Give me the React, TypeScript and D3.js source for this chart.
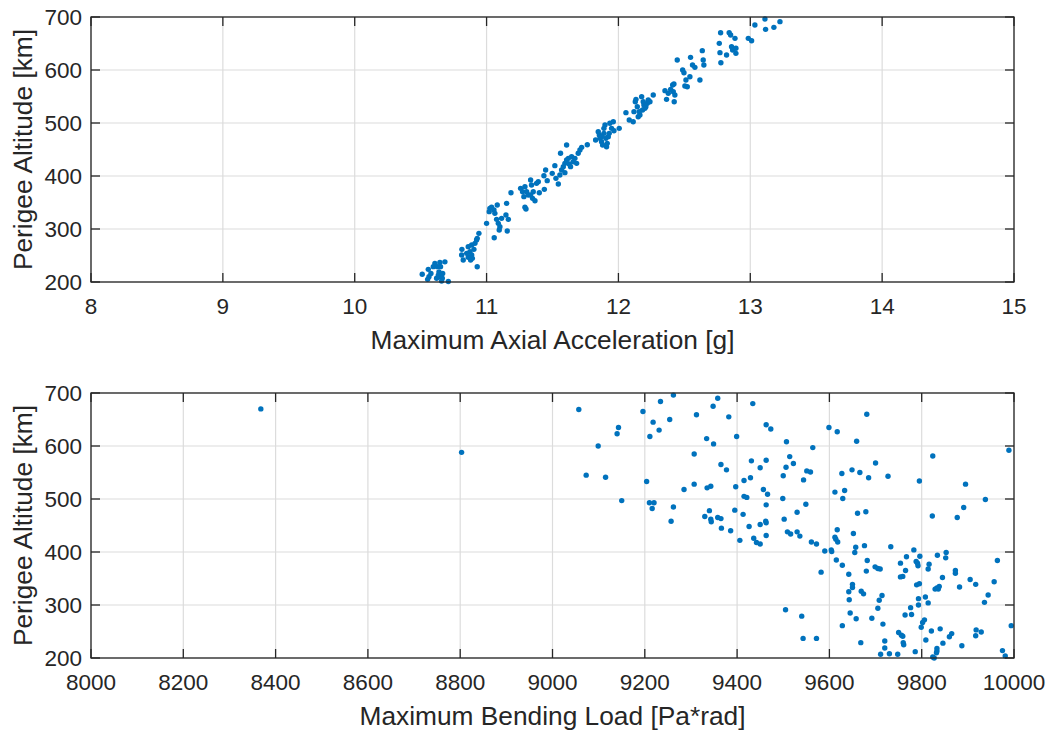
import React from "react";
import * as d3 from "d3";

// ---------- Data ----------
const accelG = [
  10.512, 10.558, 10.563, 10.553, 10.596, 10.608, 10.626, 10.646, 10.651, 10.684, 10.639, 10.634, 10.651, 10.664, 10.621, 10.659, 10.71, 10.578, 10.667,
  10.813, 10.811, 10.823, 10.861, 10.874, 10.887, 10.892, 10.861, 10.887, 10.904, 10.912, 10.924, 10.942, 10.929, 10.929, 10.849, 10.879,
  11.0, 11.025, 11.02, 11.038, 11.056, 11.081, 11.063, 11.076, 11.089, 11.101, 11.114, 11.147, 11.165, 11.157, 11.152, 11.058, 11.096,
  11.185, 11.258, 11.273, 11.291, 11.304, 11.283, 11.316, 11.334, 11.341, 11.354, 11.349, 11.367, 11.379, 11.392, 11.4, 11.438, 11.291, 11.299, 11.435, 11.448, 11.46, 11.334,
  11.498, 11.518, 11.526, 11.544, 11.556, 11.569, 11.561, 11.582, 11.594, 11.607, 11.607, 11.62, 11.627, 11.637, 11.645, 11.657, 11.67, 11.683, 11.695, 11.708, 11.721, 11.764, 11.594,
  11.827, 11.847, 11.855, 11.86, 11.872, 11.88, 11.89, 11.898, 11.905, 11.91, 11.915, 11.923, 11.93, 11.935, 11.948, 11.961, 11.966, 12.006, 11.89, 11.872,
  12.057, 12.082, 12.112, 12.118, 12.128, 12.133, 12.143, 12.15, 12.163, 12.176, 12.183, 12.193, 12.201, 12.208, 12.219, 12.226, 12.239, 12.264, 12.158, 12.188,
  12.353, 12.365, 12.378, 12.396, 12.411, 12.421, 12.428, 12.423, 12.416, 12.446, 12.487, 12.497, 12.512, 12.504, 12.522, 12.542, 12.547, 12.562, 12.58, 12.618, 12.636, 12.643, 12.648,
  12.765, 12.77, 12.777, 12.775, 12.84, 12.851, 12.858, 12.866, 12.82, 12.884, 12.891, 12.891,
  12.985, 13.01, 13.035, 13.111, 13.116, 13.179, 13.225,
];
const accelAltitude = [
  214.5, 223.9, 210, 205, 229, 235, 229, 237, 229, 238, 219, 213, 210, 207, 207, 202, 201, 216, 216,
  261.6, 250.9, 241.5, 246.5, 257.2, 250.9, 244.6, 266.7, 269.8, 261.6, 272.9, 279.2, 291.8, 282.4, 228.9, 254.1, 241.5,
  310.7, 339, 332.7, 340.9, 335.8, 345.3, 329.5, 318.2, 310.7, 304.4, 320.1, 326.4, 318.2, 296.2, 348.4, 283.6, 298.1,
  368.5, 376.7, 370.4, 379.9, 370.4, 361, 364.1, 392.4, 383, 370.4, 357.8, 353.4, 386.1, 389.3, 368.5, 374.8, 340.9, 337.7, 400.6, 411.3, 391.2, 364.1,
  405, 419.5, 395.6, 384.9, 401.9, 411.3, 442.8, 417.6, 423.9, 458.5, 430.2, 433.3, 422.6, 417.6, 436.5, 427, 433.3, 423.9, 442.8, 449.1, 454.1, 459.1, 406.3,
  467.9, 483.6, 477.4, 471.1, 464.8, 458.5, 480.5, 496.2, 471.1, 455.3, 461.6, 474.2, 480.5, 499.4, 489.9, 502.5, 485.5, 489.9, 489.9, 474.2,
  519.5, 505.7, 502.5, 521.4, 540.2, 544.6, 530.8, 511.9, 515.1, 549.7, 524.5, 533.9, 527.7, 530.8, 537.1, 543.4, 540.2, 552.8, 521.4, 540.2,
  561, 544.6, 556, 563.5, 571.7, 573.6, 552.8, 540.2, 559.1, 618.9, 600, 594.9, 581.1, 569.8, 568.5, 587.4, 623.9, 609.4, 605, 581.1, 636.5, 618.9, 609.4,
  650.3, 632.7, 613.8, 670.4, 670.4, 666, 644, 637.7, 628.3, 659.7, 640.9, 631.4,
  659.7, 655.3, 684.9, 696.2, 676.7, 680.5, 691.2,
];

const bendingLoad = [
  8368, 8803,
  9057, 9099, 9073, 9115, 9140, 9143, 9150, 9196, 9211, 9218, 9234, 9231, 9254, 9262, 9204, 9210, 9220, 9216, 9262, 9257,
  9285, 9307, 9307, 9312, 9334, 9349, 9348, 9358, 9382, 9399, 9434, 9463, 9473, 9365, 9377, 9335, 9343, 9397, 9415, 9429,
  9431, 9450, 9463, 9415, 9421, 9457, 9466, 9463, 9340, 9330, 9343, 9344, 9358, 9365, 9366, 9386, 9395, 9413, 9406, 9426,
  9436, 9442, 9450, 9450, 9462, 9463, 9463,
  9507, 9564, 9514, 9522, 9506, 9500, 9551, 9559, 9544, 9499, 9549, 9530, 9502, 9509, 9516, 9530, 9536, 9561, 9572, 9582,
  9590, 9604, 9605, 9599, 9617, 9659, 9681, 9627, 9649, 9666, 9685, 9700, 9727, 9612, 9633, 9629, 9661, 9679, 9617, 9612,
  9614, 9618, 9652, 9657, 9655, 9676, 9615, 9628, 9642, 9682, 9680, 9699, 9705, 9710, 9733, 9650, 9650, 9642, 9643, 9669,
  9674, 9714, 9708, 9705, 9645, 9658, 9628, 9692, 9716, 9668, 9720, 9720, 9711, 9730, 9748, 9505, 9540, 9543, 9572,
  9754, 9767, 9783, 9796, 9765, 9759, 9754, 9788, 9792, 9791, 9816, 9814, 9834, 9853, 9852, 9789, 9795, 9829, 9833, 9838,
  9836, 9845, 9873, 9873, 9882, 9905, 9917, 9957, 9964, 9944, 9936, 9793, 9808, 9814, 9793, 9776, 9764, 9778, 9799, 9802,
  9806, 9821, 9840, 9809, 9750, 9756, 9759, 9760, 9761, 9786, 9833, 9833, 9832, 9824, 9827, 9846, 9860, 9865, 9887, 9917,
  9918, 9929, 9975, 9981, 9994, 9823, 9877, 9891, 9895, 9938, 9989, 9795, 9824,
];
const bendingAltitude = [
  670, 588,
  669, 600, 545, 541, 623, 635, 497, 665, 618, 645, 684, 630, 650, 696, 533, 493, 493, 482, 485, 458,
  518, 528, 585, 659, 614, 604, 675, 690, 655, 618, 680, 640, 632, 565, 555, 521, 524, 523, 535, 540,
  572, 559, 573, 505, 503, 518, 509, 489, 478, 467, 462, 457, 465, 463, 445, 440, 479, 471, 422, 448,
  426, 418, 415, 452, 458, 455, 431,
  608, 597, 580, 567, 560, 544, 553, 551, 536, 501, 490, 475, 462, 438, 434, 438, 430, 419, 415, 362,
  402, 404, 401, 635, 627, 609, 660, 548, 555, 550, 540, 568, 543, 513, 516, 501, 473, 476, 442, 428,
  424, 419, 435, 409, 399, 412, 385, 375, 358, 384, 364, 372, 369, 368, 410, 339, 333, 325, 310, 326,
  321, 318, 309, 294, 285, 274, 261, 275, 264, 229, 232, 219, 207, 208, 207, 291, 279, 237, 237,
  379, 391, 404, 392, 365, 354, 353, 382, 374, 379, 377, 368, 394, 399, 389, 338, 340, 330, 332, 335,
  330, 352, 365, 360, 334, 348, 339, 344, 384, 319, 305, 312, 315, 304, 300, 295, 281, 282, 258, 267,
  272, 251, 255, 234, 248, 243, 241, 229, 225, 212, 218, 213, 210, 202, 200, 228, 240, 246, 223, 242,
  253, 249, 214, 204, 261, 468, 465, 484, 528, 499, 592, 534, 581,
];

const accelTicks = [8, 9, 10, 11, 12, 13, 14, 15];
const bendingTicks = [8000, 8200, 8400, 8600, 8800, 9000, 9200, 9400, 9600, 9800, 10000];
const altitudeTicks = [200, 300, 400, 500, 600, 700];

// ---------- Styling ----------
const W = 1049;
const H = 731;
const AXIS = "#262626";
const GRID = "#dcdcdc";
const DOT = "#0072BD";
const FONT = "'Liberation Sans', Arial, Helvetica, sans-serif";
const TICK_FS = 22.5;
const LABEL_FS = 26.3;
const TICK_LEN = 9;

type PanelProps = {
  top: number;
  bottom: number;
  left: number;
  right: number;
  xDomain: [number, number];
  xTicks: number[];
  xs: number[];
  ys: number[];
  xLabel: string;
};

function Panel({ top, bottom, left, right, xDomain, xTicks, xs, ys, xLabel }: PanelProps) {
  const x = d3.scaleLinear().domain(xDomain).range([left, right]);
  const y = d3.scaleLinear().domain([200, 700]).range([bottom, top]);
  const midY = (top + bottom) / 2;
  return (
    <g>
      {xTicks.map((t) => (
        <line key={"gx" + t} x1={x(t)} x2={x(t)} y1={top} y2={bottom} stroke={GRID} strokeWidth={1.2} />
      ))}
      {altitudeTicks.map((t) => (
        <line key={"gy" + t} x1={left} x2={right} y1={y(t)} y2={y(t)} stroke={GRID} strokeWidth={1.2} />
      ))}
      {xs.map((v, i) => (
        <circle key={"p" + i} cx={x(v)} cy={y(ys[i])} r={2.7} fill={DOT} />
      ))}
      <rect x={left} y={top} width={right - left} height={bottom - top} fill="none" stroke={AXIS} strokeWidth={1.3} />
      {xTicks.map((t) => (
        <g key={"tx" + t}>
          <line x1={x(t)} x2={x(t)} y1={bottom} y2={bottom - TICK_LEN} stroke={AXIS} strokeWidth={1.3} />
          <line x1={x(t)} x2={x(t)} y1={top} y2={top + TICK_LEN} stroke={AXIS} strokeWidth={1.3} />
          <text x={x(t)} y={bottom + 32} textAnchor="middle" fontSize={TICK_FS} fill={AXIS} fontFamily={FONT}>
            {t}
          </text>
        </g>
      ))}
      {altitudeTicks.map((t) => (
        <g key={"ty" + t}>
          <line x1={left} x2={left + TICK_LEN} y1={y(t)} y2={y(t)} stroke={AXIS} strokeWidth={1.3} />
          <line x1={right} x2={right - TICK_LEN} y1={y(t)} y2={y(t)} stroke={AXIS} strokeWidth={1.3} />
          <text x={left - 9} y={y(t) + 8} textAnchor="end" fontSize={TICK_FS} fill={AXIS} fontFamily={FONT}>
            {t}
          </text>
        </g>
      ))}
      <text x={(left + right) / 2} y={bottom + 67} textAnchor="middle" fontSize={LABEL_FS} fill={AXIS} fontFamily={FONT}>
        {xLabel}
      </text>
      <text
        transform={`translate(${32},${midY}) rotate(-90)`}
        textAnchor="middle"
        fontSize={LABEL_FS}
        fill={AXIS}
        fontFamily={FONT}
      >
        Perigee Altitude [km]
      </text>
    </g>
  );
}

export default function App() {
  return (
    <svg
      width={W}
      height={H}
      viewBox={`0 0 ${W} ${H}`}
      style={{ position: "absolute", left: 0, top: 0, display: "block", background: "#fff" }}
    >
      <rect x={0} y={0} width={W} height={H} fill="#fff" />
      <Panel
        top={17}
        bottom={282}
        left={91}
        right={1014}
        xDomain={[8, 15]}
        xTicks={accelTicks}
        xs={accelG}
        ys={accelAltitude}
        xLabel="Maximum Axial Acceleration [g]"
      />
      <Panel
        top={393}
        bottom={658}
        left={91}
        right={1014}
        xDomain={[8000, 10000]}
        xTicks={bendingTicks}
        xs={bendingLoad}
        ys={bendingAltitude}
        xLabel="Maximum Bending Load [Pa*rad]"
      />
    </svg>
  );
}
